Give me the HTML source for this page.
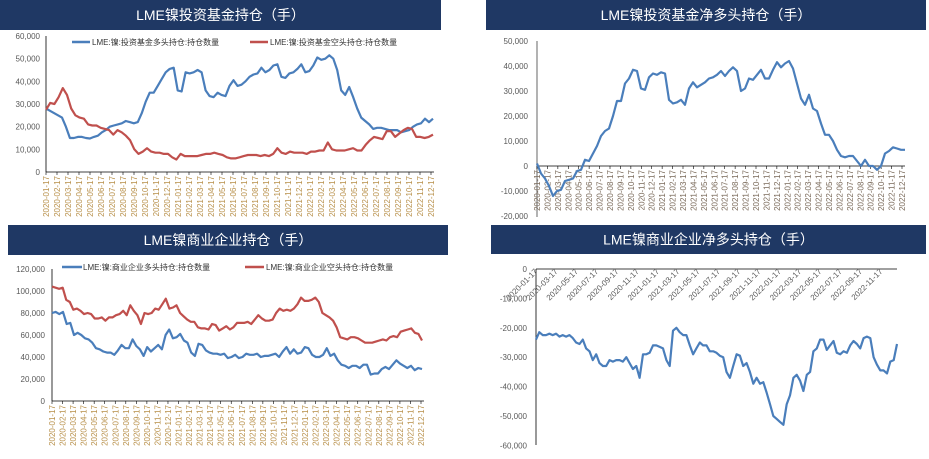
<!DOCTYPE html>
<html><head><meta charset="utf-8"><style>
body{margin:0;background:#fff;width:929px;height:459px;overflow:hidden}
svg{display:block}
text{font-family:"Liberation Sans","Noto Sans CJK SC",sans-serif}
</style></head><body>
<svg id="s" width="929" height="459" xmlns="http://www.w3.org/2000/svg"></svg>
<script>
const S=document.getElementById('s');let h='';
const BLUE='#4a7ebb',RED='#c0504d',TC='#595959';
function title(x1,x2,y1,y2,t){h+=`<rect x="${x1}" y="${y1}" width="${x2-x1}" height="${y2-y1}" fill="#1f3864"/><text x="${(x1+x2)/2}" y="${(y1+y2)/2+5}" fill="#fff" font-size="14" text-anchor="middle">${t}</text>`;}
function line(vals,x0,x1,yf,col){let p=vals.map((v,i)=>(x0+(x1-x0)*i/(vals.length-1)).toFixed(1)+','+yf(v).toFixed(1)).join(' ');h+=`<polyline points="${p}" fill="none" stroke="${col}" stroke-width="2.2" stroke-linejoin="round"/>`;}
const months=[];for(let y=2020;y<=2022;y++)for(let m=1;m<=12;m++)months.push(y+'-'+String(m).padStart(2,'0')+'-17');
function yt(x,y,t,col){h+=`<text x="${x}" y="${y+3}" font-size="8" fill="${col||TC}" text-anchor="end">${t}</text>`;}
function vlabels(x0,x1,ytop,col){months.forEach((m,i)=>{let x=x0+(x1-x0)*i/35;h+=`<line x1="${x}" y1="${ytop-4}" x2="${x}" y2="${ytop-1}" stroke="#000" stroke-width="0.6"/><text transform="translate(${x+3},${ytop}) rotate(-90)" font-size="8" fill="${col}" text-anchor="end">${m}</text>`;});}
// Panel 1
title(0,441,0,30,'LME镍投资基金持仓（手）');
{const yf=v=>172-v/60000*136;
for(let v=0;v<=60000;v+=10000)yt(40,yf(v),v.toLocaleString('en-US'));
h+=`<line x1="46" y1="36" x2="46" y2="172" stroke="#000" stroke-width="0.8"/><line x1="46" y1="172" x2="434" y2="172" stroke="#000" stroke-width="0.8"/>`;
vlabels(46,431,176,'#b8904a');
h+=`<line x1="72" y1="42" x2="90" y2="42" stroke="${BLUE}" stroke-width="2.5"/><text x="92" y="45" font-size="8" fill="#333">LME:镍:投资基金多头持仓:持仓数量</text><line x1="250" y1="42" x2="268" y2="42" stroke="${RED}" stroke-width="2.5"/><text x="270" y="45" font-size="8" fill="#333">LME:镍:投资基金空头持仓:持仓数量</text>`;
const b=[28000,27000,26000,25000,24000,20000,15000,15000,15500,15500,15000,14800,15500,16000,17500,18500,20000,20500,21000,21500,22500,22000,21500,22000,26000,31000,35000,35000,38000,41000,44000,45500,46000,36000,35500,44000,43500,44000,45000,44000,36000,33500,33000,35000,34000,33500,38000,40500,38000,38500,40000,42000,43000,43500,46000,44000,45000,47000,47500,42000,41500,43500,44000,45500,47500,44000,44500,47000,50500,49500,50000,51500,50000,45000,36000,34000,37500,33000,28000,24000,22500,21000,19000,19500,19500,19000,18500,18500,18500,17500,18000,18500,20000,21000,21500,23500,22000,23500];
const r=[27500,30500,30000,33000,37000,34000,28000,25000,24000,23500,21000,20500,20500,19500,19000,18500,16500,18500,17500,16000,14000,10000,8000,9000,10500,9000,8500,8500,8000,8000,6500,5500,8000,7000,7000,7000,7000,7500,8000,8000,8500,8000,7500,6500,6000,6000,6500,7000,7500,7500,7500,7000,7500,7000,8000,10500,8500,8000,9000,8500,8500,8500,8000,9000,9000,9500,9500,13000,10000,9500,9500,9500,10000,10500,9500,9500,12000,14000,15500,15000,14500,18000,18000,15500,17000,18500,19500,19000,15500,15500,15000,15500,16500];
line(b,46,433,yf,BLUE);line(r,46,433,yf,RED);}
// Panel 2
title(486,926,0,30,'LME镍投资基金净多头持仓（手）');
{const yf=v=>166-v/10000*25;
for(let v=-20000;v<=50000;v+=10000)yt(528,yf(v),v.toLocaleString('en-US'));
h+=`<line x1="537" y1="41" x2="537" y2="217" stroke="#808080" stroke-width="1.2"/><line x1="537" y1="166" x2="905" y2="166" stroke="#000" stroke-width="0.8"/>`;
vlabels(537,902,170,'#7a6a5a');
const n=[1000,-3000,-5000,-8000,-12000,-10000,-9500,-6000,-5500,-5000,-2000,-1500,2500,2000,5000,8000,12000,14000,15000,20000,26000,26000,33000,35000,38500,38000,31000,30500,35500,37000,36500,37500,37000,26500,25000,25500,26500,24500,31000,33500,31500,32500,33500,35000,35500,36500,38000,36000,38000,39500,38000,30000,31000,35000,34500,36500,38500,35000,35000,38500,41500,39500,41000,42000,39000,33000,27000,24500,28500,23000,22000,17000,12500,12500,10000,6500,4000,3500,4000,4000,2000,0,2500,0,0,-1500,0,5000,6000,7500,7000,6500,6500];
line(n,537,905,yf,BLUE);}
// Panel 3
title(8,448,225,255,'LME镍商业企业持仓（手）');
{const yf=v=>401-v/20000*22;
for(let v=0;v<=120000;v+=20000)yt(45,yf(v),v.toLocaleString('en-US'));
h+=`<line x1="52" y1="269" x2="52" y2="401" stroke="#000" stroke-width="0.8"/><line x1="52" y1="401" x2="424" y2="401" stroke="#000" stroke-width="0.8"/>`;
vlabels(52,421,405,'#b8904a');
h+=`<line x1="62" y1="267" x2="82" y2="267" stroke="${BLUE}" stroke-width="2.5"/><text x="83" y="270" font-size="8" fill="#333">LME:镍:商业企业多头持仓:持仓数量</text><line x1="245" y1="267" x2="264" y2="267" stroke="${RED}" stroke-width="2.5"/><text x="266" y="270" font-size="8" fill="#333">LME:镍:商业企业空头持仓:持仓数量</text>`;
const b=[80000,81000,79000,81000,70000,71000,60000,62000,60000,57000,56000,53000,48000,47000,45000,44000,44000,42000,46000,51000,48000,48000,56000,50000,47000,41000,49000,45000,48000,51000,47000,60000,65000,57000,58000,61000,55000,53000,44000,41000,52000,51000,46000,44000,43000,43000,42000,43000,39000,40000,42000,39000,40000,43000,42000,42000,43000,40000,41000,41000,42000,43000,40000,45000,49000,43000,47000,43000,44000,49000,48000,42000,40000,40000,42000,48000,41000,43000,37000,33000,32000,30000,32000,32000,30000,33000,33000,24000,25000,25000,29000,31000,29000,33000,37000,34000,32000,30000,32000,28000,30000,29000];
const r=[104000,103000,102000,103000,92000,90000,83000,84000,82000,79000,80000,79000,75000,75000,76000,73000,76000,76000,78000,79000,82000,78000,87000,82000,78000,70000,80000,79000,80000,84000,83000,88000,93000,84000,85000,87000,80000,77000,74000,72000,72000,67000,66000,66000,65000,70000,69000,64000,66000,68000,65000,67000,71000,71000,71000,72000,70000,74000,78000,75000,73000,73000,74000,80000,84000,82000,83000,82000,84000,88000,94000,91000,91000,92000,94000,90000,80000,78000,76000,73000,67000,58000,57000,56000,58000,58000,57000,55000,53000,53000,53000,54000,55000,56000,55000,58000,59000,58000,63000,64000,65000,66000,62000,61000,55000];
line(b,52,422,yf,BLUE);line(r,52,422,yf,RED);}
// Panel 4
title(491,926,225,254,'LME镍商业企业净多头持仓（手）');
{const yf=v=>269-v/10000*(-29.4)*-1*-1;
const Y=v=>269+(-v)/10000*29.4;
for(let v=0;v>=-60000;v-=10000)yt(527,Y(v),v===0?'0':v.toLocaleString('en-US'));
h+=`<line x1="536" y1="269" x2="536" y2="445" stroke="#000" stroke-width="0.8"/><line x1="536" y1="269" x2="897" y2="269" stroke="#000" stroke-width="0.8"/>`;
for(let i=0;i<18;i++){const m=months[i*2];const x=538+i*20.3;h+=`<text transform="translate(${x},${272}) rotate(-45)" font-size="8" fill="${TC}" text-anchor="end">${m}</text>`;}
const n=[-24000,-21500,-22500,-22500,-22000,-22500,-22000,-23000,-22500,-23000,-22500,-23500,-25000,-25500,-24000,-27000,-28000,-31000,-29000,-32000,-33000,-33000,-31000,-31500,-31000,-31000,-31500,-30000,-32000,-34000,-33000,-37000,-29000,-29000,-28500,-26000,-26000,-26500,-27000,-31000,-33000,-21000,-20000,-21500,-22500,-22500,-26000,-29000,-27000,-25000,-26000,-26000,-28000,-28000,-28500,-29500,-30000,-35000,-37000,-33000,-29000,-29500,-33000,-32000,-35000,-39000,-37000,-39000,-38500,-42000,-46000,-50000,-51000,-52000,-53000,-46000,-43000,-37000,-36000,-38000,-41500,-36000,-35000,-28000,-27000,-24000,-24000,-27500,-26000,-24500,-28500,-29000,-28000,-28500,-26000,-24500,-25500,-27000,-23500,-23000,-23500,-30000,-32500,-34500,-34500,-35500,-31500,-31000,-25500];
line(n,536,897,Y,BLUE);}
S.innerHTML=h;
</script>
</body></html>
